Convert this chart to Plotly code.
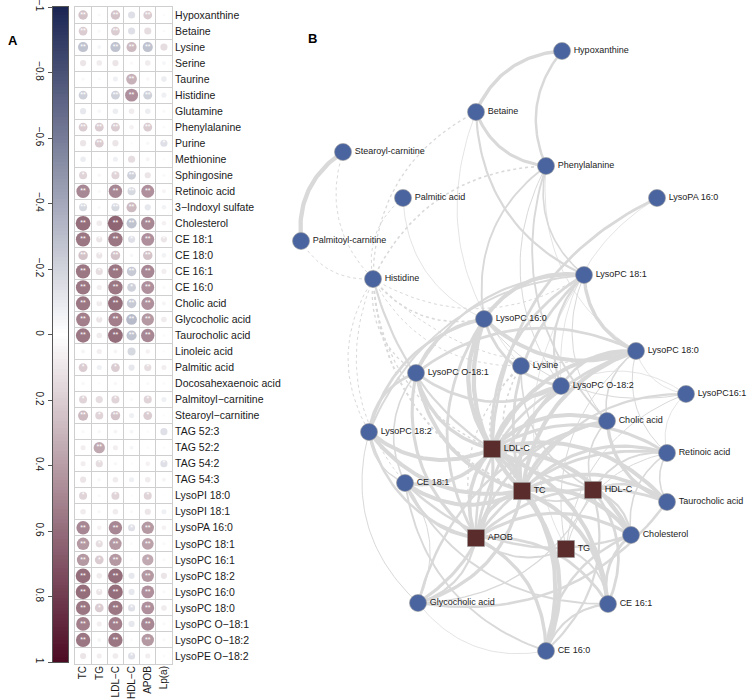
import numpy as np
import plotly.graph_objects as go

W, H = 748, 700
FONT = "Liberation Sans, Arial, sans-serif"
CSCALE = [[0.0, "#1b2553"], [0.5, "#ffffff"], [1.0, "#4d0b23"]]
GRID = "#cfcfcf"
EDGE = "#d9d9d9"

# =============================================================================
# Panel A data: correlation of metabolites with blood lipids
# =============================================================================
metabolites = [
    "Hypoxanthine", "Betaine", "Lysine", "Serine", "Taurine", "Histidine", "Glutamine",
    "Phenylalanine", "Purine", "Methionine", "Sphingosine", "Retinoic acid",
    "3−Indoxyl sulfate", "Cholesterol", "CE 18:1", "CE 18:0", "CE 16:1", "CE 16:0",
    "Cholic acid", "Glycocholic acid", "Taurocholic acid", "Linoleic acid", "Palmitic acid",
    "Docosahexaenoic acid", "Palmitoyl−carnitine", "Stearoyl−carnitine", "TAG 52:3",
    "TAG 52:2", "TAG 54:2", "TAG 54:3", "LysoPI 18:0", "LysoPI 18:1", "LysoPA 16:0",
    "LysoPC 18:1", "LysoPC 16:1", "LysoPC 18:2", "LysoPC 16:0", "LysoPC 18:0",
    "LysoPC O−18:1", "LysoPC O−18:2", "LysoPE O−18:2",
]
lipids = ["TC", "TG", "LDL−C", "HDL−C", "APOB", "Lp(a)"]

r_tc = [0.35, 0.30, -0.40, 0.15, 0.04, -0.30, -0.15, 0.30, 0.15, -0.12, 0.25, 0.70, -0.25,
        0.85, 0.80, 0.35, 0.80, 0.80, 0.80, 0.75, 0.80, 0.06, 0.30, 0.05, 0.25, 0.40, 0.04,
        0.10, 0.10, 0.15, 0.25, 0.12, 0.70, 0.60, 0.60, 0.85, 0.85, 0.80, 0.75, 0.80, 0.15]
r_tg = [0.04, 0.04, -0.06, 0.12, 0.03, 0.00, -0.05, 0.30, 0.30, -0.02, 0.05, 0.04, -0.04,
        0.12, 0.15, 0.15, 0.20, 0.10, 0.12, 0.15, 0.12, 0.10, -0.10, 0.02, 0.20, 0.25, 0.05,
        0.50, 0.20, 0.05, 0.04, 0.05, 0.08, 0.20, 0.30, 0.12, 0.15, 0.30, 0.10, 0.06, 0.10]
r_ldl = [0.35, 0.30, -0.40, 0.15, -0.10, -0.30, -0.12, 0.30, 0.15, -0.10, 0.25, 0.70, -0.25,
         0.90, 0.80, 0.35, 0.80, 0.80, 0.85, 0.75, 0.85, 0.06, 0.30, 0.05, 0.25, 0.35, 0.06,
         0.10, 0.05, 0.12, 0.25, 0.12, 0.70, 0.60, 0.60, 0.85, 0.85, 0.80, 0.75, 0.80, 0.12]
r_hdl = [-0.20, -0.20, 0.40, 0.04, 0.45, 0.65, 0.12, 0.08, 0.02, 0.20, -0.30, -0.25, 0.40,
         -0.40, -0.20, -0.05, -0.35, -0.30, -0.35, -0.45, -0.40, -0.25, -0.15, 0.02, 0.04,
         -0.10, -0.06, -0.06, 0.02, -0.10, 0.02, 0.04, -0.20, 0.03, -0.03, -0.15, -0.15,
         -0.20, -0.15, 0.03, -0.20]
r_apob = [0.30, 0.20, -0.40, 0.12, 0.05, -0.30, -0.12, 0.30, 0.05, 0.06, 0.15, 0.65, -0.15,
          0.70, 0.65, 0.35, 0.70, 0.65, 0.65, 0.60, 0.70, 0.08, 0.20, 0.04, 0.25, 0.30, 0.02,
          0.02, 0.08, 0.12, 0.25, 0.15, 0.60, 0.55, 0.50, 0.60, 0.65, 0.65, 0.70, 0.60, 0.10]
r_lpa = [0.02, 0.03, 0.20, -0.06, -0.12, -0.10, -0.04, 0.03, -0.20, 0.02, -0.04, 0.06, -0.08,
         0.08, 0.15, -0.08, 0.10, 0.04, 0.06, 0.12, 0.03, 0.02, 0.10, 0.03, -0.10, 0.02, -0.20,
         0.02, -0.20, 0.06, 0.01, -0.10, 0.08, 0.04, -0.04, 0.15, 0.04, 0.12, 0.04, 0.04, 0.03]

sig_tc = ["**", "**", "**", "", "", "**", "", "**", "", "", "*", "**", "**", "**", "**", "**",
          "**", "**", "**", "**", "**", "", "*", "", "*", "**", "", "", "", "", "*", "", "**",
          "**", "**", "**", "**", "**", "**", "**", ""]
sig_tg = ["", "", "", "", "", "", "", "**", "**", "", "", "", "", "", "*", "*", "*", "", "*",
          "*", "", "", "", "", "", "*", "", "**", "*", "", "", "", "", "*", "*", "", "*", "*",
          "", "", ""]
sig_ldl = ["**", "**", "**", "", "", "**", "", "**", "", "", "*", "**", "**", "**", "**", "**",
           "**", "**", "**", "**", "**", "", "*", "", "*", "**", "", "", "", "", "*", "", "**",
           "**", "**", "**", "**", "**", "**", "**", ""]
sig_hdl = ["", "", "**", "", "**", "**", "", "", "", "", "**", "**", "**", "**", "*", "", "**",
           "*", "**", "**", "**", "", "", "", "", "", "", "", "", "", "", "", "*", "", "", "",
           "", "*", "", "", "*"]
sig_apob = ["**", "", "**", "", "", "**", "", "**", "", "", "", "**", "", "**", "**", "**",
            "**", "**", "**", "**", "**", "", "*", "", "*", "*", "", "", "", "", "*", "", "**",
            "**", "*", "**", "**", "**", "**", "**", ""]
sig_lpa = ["", "", "", "", "", "", "", "", "*", "", "", "", "", "", "*", "", "", "", "", "",
           "", "", "", "", "", "", "", "", "*", "", "", "", "", "", "", "", "", "", "", "", ""]

colorbar_ticks = [-1, -0.8, -0.6, -0.4, -0.2, 0, 0.2, 0.4, 0.6, 0.8, 1]
colorbar_text = ["−1", "−0.8", "−0.6", "−0.4", "−0.2", "0", "0.2", "0.4", "0.6", "0.8", "1"]

# =============================================================================
# Panel B data: correlation network (node layout in screen pixels)
# =============================================================================
node_names = [
    "Hypoxanthine", "Betaine", "Stearoyl-carnitine", "Palmitic acid", "Palmitoyl-carnitine",
    "Phenylalanine", "LysoPA 16:0", "Histidine", "LysoPC 18:1", "LysoPC 16:0", "LysoPC 18:0",
    "Lysine", "LysoPC O-18:1", "LysoPC O-18:2", "LysoPC16:1", "Cholic acid", "LysoPC 18:2",
    "LDL-C", "Retinoic acid", "CE 18:1", "TC", "HDL-C", "Taurocholic acid", "Cholesterol",
    "APOB", "TG", "Glycocholic acid", "CE 16:1", "CE 16:0",
]
node_x = [562, 476, 343, 403, 301, 546, 657, 373, 584, 484, 636, 521, 416, 561, 686, 607, 369,
          492, 667, 405, 522, 593, 667, 631, 476, 566, 418, 608, 546]
node_y = [51, 112, 152, 198, 241, 166, 198, 279, 275, 319, 351, 366, 373, 386, 394, 421, 432,
          449, 453, 483, 491, 490, 502, 535, 538, 549, 603, 604, 651]
lipid_nodes = {"LDL-C", "TC", "HDL-C", "APOB", "TG"}

edges = [
    ("Hypoxanthine", "Betaine", 0.70), ("Hypoxanthine", "Phenylalanine", 0.55),
    ("Betaine", "Phenylalanine", 0.65), ("Betaine", "LysoPC 18:1", 0.50),
    ("Betaine", "Lysine", 0.25), ("Betaine", "Histidine", -0.35),
    ("Stearoyl-carnitine", "Palmitoyl-carnitine", 0.85), ("Stearoyl-carnitine", "Histidine", -0.30),
    ("Palmitic acid", "Histidine", -0.30), ("Palmitic acid", "LysoPC 16:0", 0.25),
    ("Palmitoyl-carnitine", "Histidine", -0.30), ("Phenylalanine", "LysoPC 16:0", 0.45),
    ("Phenylalanine", "LysoPC 18:1", 0.40), ("Phenylalanine", "Histidine", -0.40),
    ("Phenylalanine", "Cholic acid", 0.45), ("Phenylalanine", "LysoPC O-18:2", 0.30),
    ("Phenylalanine", "LysoPC 18:0", 0.25), ("LysoPA 16:0", "LDL-C", 0.60),
    ("LysoPA 16:0", "LysoPC O-18:2", 0.25),
    ("Histidine", "LysoPC O-18:1", -0.35), ("Histidine", "LysoPC 18:2", -0.30),
    ("Histidine", "LysoPC 16:0", -0.40), ("Histidine", "LysoPC 18:1", -0.30),
    ("Histidine", "LysoPC 18:0", -0.30), ("Histidine", "TC", -0.45),
    ("Histidine", "LDL-C", -0.35), ("Histidine", "HDL-C", 0.50),
    ("Histidine", "CE 18:1", -0.30), ("Histidine", "Lysine", -0.30),
    ("LysoPC 18:1", "LysoPC 16:0", 0.80), ("LysoPC 18:1", "LysoPC 18:0", 0.70),
    ("LysoPC 18:1", "LysoPC O-18:1", 0.50), ("LysoPC 18:1", "LysoPC O-18:2", 0.50),
    ("LysoPC 18:1", "LysoPC 18:2", 0.45), ("LysoPC 18:1", "Cholic acid", 0.30),
    ("LysoPC 16:0", "LysoPC 18:0", 0.80), ("LysoPC 16:0", "LysoPC O-18:1", 0.60),
    ("LysoPC 16:0", "LysoPC O-18:2", 0.60), ("LysoPC 16:0", "LysoPC 18:2", 0.60),
    ("LysoPC 16:0", "LysoPC16:1", 0.30), ("LysoPC 18:0", "LysoPC16:1", 0.25),
    ("LysoPC 18:0", "LysoPC O-18:1", 0.60), ("LysoPC 18:0", "LysoPC O-18:2", 0.55),
    ("LysoPC 18:0", "Cholic acid", 0.40), ("LysoPC 18:0", "Retinoic acid", 0.30),
    ("LysoPC O-18:1", "LysoPC O-18:2", 0.60), ("LysoPC O-18:1", "LysoPC 18:2", 0.60),
    ("LysoPC O-18:1", "CE 18:1", 0.40), ("LysoPC16:1", "Retinoic acid", 0.25),
    ("LysoPC16:1", "LysoPC O-18:2", 0.25), ("Cholic acid", "Taurocholic acid", 0.70),
    ("Cholic acid", "Glycocholic acid", 0.55), ("Glycocholic acid", "Taurocholic acid", 0.55),
    ("Cholesterol", "CE 16:1", 0.60), ("Cholesterol", "CE 16:0", 0.55),
    ("CE 18:1", "Cholesterol", 0.55), ("CE 16:1", "CE 16:0", 0.50),
    ("CE 18:1", "CE 16:1", 0.45), ("CE 18:1", "CE 16:0", 0.45),
    ("Retinoic acid", "Taurocholic acid", 0.40), ("Retinoic acid", "Cholesterol", 0.40),
    ("Glycocholic acid", "CE 16:0", 0.25), ("Glycocholic acid", "CE 18:1", 0.30),
    ("LysoPC 18:2", "Glycocholic acid", 0.30), ("LysoPC 18:2", "CE 18:1", 0.35),
    # metabolite - lipid
    ("LysoPC 16:0", "TC", 0.85), ("LysoPC 18:0", "TC", 0.80), ("LysoPC 18:1", "TC", 0.60),
    ("LysoPC O-18:1", "TC", 0.75), ("LysoPC O-18:2", "TC", 0.75), ("LysoPC 18:2", "TC", 0.80),
    ("LysoPC16:1", "TC", 0.50), ("Cholic acid", "TC", 0.75), ("Retinoic acid", "TC", 0.65),
    ("Taurocholic acid", "TC", 0.75), ("Glycocholic acid", "TC", 0.70),
    ("Cholesterol", "TC", 0.85), ("CE 18:1", "TC", 0.80), ("CE 16:1", "TC", 0.80),
    ("CE 16:0", "TC", 0.85), ("Lysine", "TC", -0.40),
    ("LysoPC 16:0", "LDL-C", 0.85), ("LysoPC 18:0", "LDL-C", 0.80), ("LysoPC 18:1", "LDL-C", 0.60),
    ("LysoPC O-18:1", "LDL-C", 0.70), ("LysoPC O-18:2", "LDL-C", 0.70),
    ("LysoPC 18:2", "LDL-C", 0.80), ("Cholic acid", "LDL-C", 0.80),
    ("Retinoic acid", "LDL-C", 0.65), ("Taurocholic acid", "LDL-C", 0.80),
    ("Glycocholic acid", "LDL-C", 0.65), ("Cholesterol", "LDL-C", 0.85),
    ("CE 18:1", "LDL-C", 0.75), ("CE 16:1", "LDL-C", 0.80), ("CE 16:0", "LDL-C", 0.80),
    ("Lysine", "LDL-C", -0.40),
    ("LysoPC 16:0", "APOB", 0.60), ("LysoPC 18:0", "APOB", 0.60), ("LysoPC O-18:1", "APOB", 0.65),
    ("LysoPC O-18:2", "APOB", 0.55), ("LysoPC 18:2", "APOB", 0.55), ("Cholic acid", "APOB", 0.55),
    ("Retinoic acid", "APOB", 0.60), ("Taurocholic acid", "APOB", 0.60),
    ("Glycocholic acid", "APOB", 0.50), ("Cholesterol", "APOB", 0.65),
    ("CE 18:1", "APOB", 0.55), ("CE 16:1", "APOB", 0.60), ("CE 16:0", "APOB", 0.70),
    ("Lysine", "APOB", -0.35),
    ("Lysine", "HDL-C", 0.40), ("Taurocholic acid", "HDL-C", 0.55), ("Cholesterol", "HDL-C", 0.50),
    ("Retinoic acid", "HDL-C", 0.45), ("CE 16:1", "HDL-C", 0.60), ("CE 16:0", "HDL-C", 0.50),
    ("Glycocholic acid", "HDL-C", 0.35), ("Cholic acid", "HDL-C", 0.40),
    ("LysoPC 18:0", "TG", 0.30), ("LysoPC16:1", "TG", 0.30), ("CE 16:1", "TG", 0.45),
    ("Retinoic acid", "TG", 0.30), ("LysoPC 18:1", "TG", 0.25), ("APOB", "TG", 0.45),
    ("TC", "LDL-C", 0.90), ("TC", "APOB", 0.75), ("LDL-C", "APOB", 0.75), ("TC", "HDL-C", 0.45),
]


def arc(x0, y0, x1, y1, bend=0.3, n=40):
    # quadratic bezier bent to the left of the from->to direction
    dx, dy = x1 - x0, y1 - y0
    cx = (x0 + x1) / 2 - dy * bend
    cy = (y0 + y1) / 2 + dx * bend
    t = np.linspace(0, 1, n)
    bx = (1 - t) ** 2 * x0 + 2 * (1 - t) * t * cx + t ** 2 * x1
    by = (1 - t) ** 2 * y0 + 2 * (1 - t) * t * cy + t ** 2 * y1
    return bx, by


fig = go.Figure()

# ---------------- Panel A: colour bar drawn as a heatmap strip ----------------
grad = np.linspace(-1, 1, 201)
fig.add_trace(go.Heatmap(
    z=grad.reshape(-1, 1), x=[0], y=grad, colorscale=CSCALE, zmin=-1, zmax=1,
    showscale=False, hoverinfo="skip", xaxis="x2", yaxis="y2",
))

# ---------------- Panel A: correlation circles ----------------
cols = [r_tc, r_tg, r_ldl, r_hdl, r_apob, r_lpa]
sigs = [sig_tc, sig_tg, sig_ldl, sig_hdl, sig_apob, sig_lpa]
mx, my, mr, ms, mt = [], [], [], [], []
for j, (rv, sv) in enumerate(zip(cols, sigs)):
    for i, (r, s) in enumerate(zip(rv, sv)):
        mx.append(j)
        my.append(i)
        mr.append(r)
        ms.append(max(2.5, 16 * np.sqrt(abs(r))))
        mt.append(s)

fig.add_trace(go.Scatter(
    x=mx, y=my, mode="markers+text", text=mt, textposition="middle center",
    textfont=dict(color="white", size=7, family=FONT),
    marker=dict(size=ms, color=mr, colorscale=CSCALE, cmin=-1, cmax=1, line=dict(width=0)),
    hoverinfo="skip", xaxis="x", yaxis="y",
))

# ---------------- Panel B: network edges ----------------
pos = {n: (x, y) for n, x, y in zip(node_names, node_x, node_y)}
groups = {}
for a, b, r in edges:
    w = round(max(0.5, 0.4 + 6.0 * (abs(r) - 0.2)), 1)
    key = (w, "dot" if r < 0 else "solid")
    bx, by = arc(*pos[a], *pos[b])
    gx, gy = groups.setdefault(key, ([], []))
    gx.extend(list(bx) + [None])
    gy.extend(list(by) + [None])

for (w, dash), (gx, gy) in sorted(groups.items()):
    fig.add_trace(go.Scatter(
        x=gx, y=gy, mode="lines", line=dict(color=EDGE, width=w, dash=dash),
        hoverinfo="skip", xaxis="x3", yaxis="y3",
    ))

# ---------------- Panel B: nodes ----------------
is_lipid = [n in lipid_nodes for n in node_names]
for lipid_flag, sym, colr in [(False, "circle", "#4a64a0"), (True, "square", "#5a2c2c")]:
    idx = [k for k, f in enumerate(is_lipid) if f == lipid_flag]
    fig.add_trace(go.Scatter(
        x=[node_x[k] for k in idx], y=[node_y[k] for k in idx],
        text=[node_names[k] for k in idx],
        mode="markers+text", textposition="middle right",
        textfont=dict(size=9, color="#222222", family=FONT),
        marker=dict(symbol=sym, size=17, color=colr, line=dict(color="#9a9a9a", width=0.6)),
        hoverinfo="skip", xaxis="x3", yaxis="y3",
    ))

fig.update_layout(
    width=W, height=H, margin=dict(l=0, r=0, t=0, b=0),
    paper_bgcolor="white", plot_bgcolor="white", showlegend=False,
    font=dict(family=FONT, color="#1a1a1a"),
    xaxis=dict(
        domain=[75 / W, 172 / W], range=[-0.5, 5.5], tickvals=list(range(6)), ticktext=lipids,
        tickangle=-90, tickfont=dict(size=10), ticks="", showgrid=False, zeroline=False,
        minor=dict(tickvals=[k - 0.5 for k in range(7)], showgrid=True, gridcolor=GRID, gridwidth=1),
        showline=True, mirror=True, linecolor=GRID, automargin=False, fixedrange=True,
        ticklabeloverflow="allow", ticklabelstandoff=-3,
    ),
    yaxis=dict(
        domain=[1 - 664 / H, 1 - 7 / H], range=[40.5, -0.5], tickvals=list(range(41)),
        ticktext=metabolites, side="right", tickfont=dict(size=10.5), ticks="", showgrid=False,
        zeroline=False, minor=dict(tickvals=[k - 0.5 for k in range(42)], showgrid=True,
                                   gridcolor=GRID, gridwidth=1),
        showline=True, mirror=True, linecolor=GRID, automargin=False, fixedrange=True,
        ticklabeloverflow="allow",
    ),
    xaxis2=dict(
        domain=[53 / W, 68 / W], range=[-0.5, 0.5], showticklabels=False, ticks="",
        showgrid=False, zeroline=False, showline=True, mirror=True, linecolor="#555555",
        anchor="y2", automargin=False,
    ),
    yaxis2=dict(
        domain=[1 - 662 / H, 1 - 7 / H], range=[1, -1], tickvals=colorbar_ticks,
        ticktext=colorbar_text, tickangle=90, ticks="outside", ticklen=4, tickcolor="#555555",
        side="left", showgrid=False, zeroline=False, showline=True, mirror=True,
        linecolor="#555555", tickfont=dict(size=10), anchor="x2", automargin=False,
        ticklabeloverflow="allow",
    ),
    xaxis3=dict(domain=[284 / W, 1], range=[284, 748], visible=False, anchor="y3"),
    yaxis3=dict(domain=[0, 1], range=[700, 0], visible=False, anchor="x3"),
    annotations=[
        dict(text="<b>A</b>", x=6 / W, y=1 - 31 / H, xref="paper", yref="paper",
             showarrow=False, font=dict(size=13, color="black")),
        dict(text="<b>B</b>", x=312 / W, y=1 - 29 / H, xref="paper", yref="paper",
             showarrow=False, font=dict(size=13, color="black")),
    ],
)

# the page's default body margin would shift the figure by 8px
fig.write_html("out.html", config={"displayModeBar": False},
               post_script="document.body.style.margin='0px';")
